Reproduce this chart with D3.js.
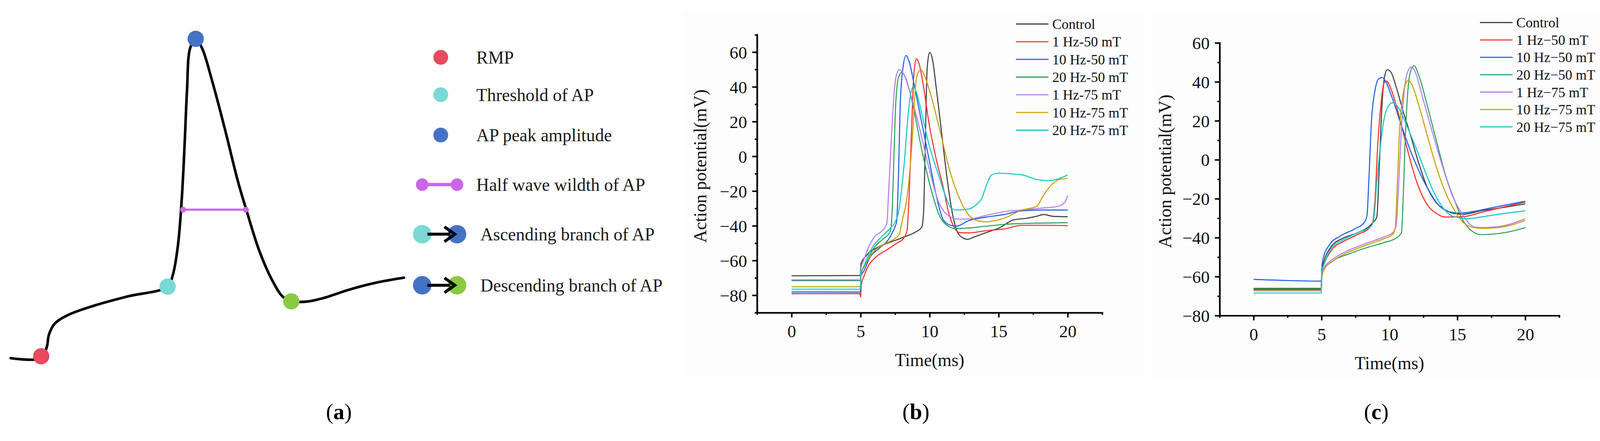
<!DOCTYPE html>
<html>
<head>
<meta charset="utf-8">
<script src="https://d3js.org/d3.v7.min.js"></script>
<style>
  html, body { margin: 0; padding: 0; background: #fff; overflow: hidden; }
  svg { display: block; }
  text { font-family: "Liberation Serif", "Times New Roman", serif; }
</style>
</head>
<body>
<script>

// ---- data ----

// panel a: schematic action potential, units 0..100 both ways
var scheme_curve = [[0,0],[7.7,0],[9.1,3.4],[9.7,7.5],[11.2,10.9],[14.5,13.5],[21.0,16.4],[29.5,19.3],
  [39.7,22.4],[41.0,26.0],[42.3,35.2],[43.3,50.3],[44.0,67.0],[44.6,83.7],[45.4,97.1],[46.8,100],
  [48.4,97.1],[51.1,86.2],[54.3,71.2],[57.5,55.3],[59.7,46.1],[62.9,33.6],[66.2,24.3],[68.8,19.3],
  [71.0,17.8],[74.8,17.7],[79.1,18.8],[85.5,21.4],[91.9,23.5],[99.5,25.2]];
var scheme_points = [[7.7,0.6],[39.7,22.4],[46.8,100],[71.0,17.8]];
var scheme_point_colors = ['#e84a5f','#7ad9d4','#4472c4','#8ac942'];
var half_width = [[43.6,46.5],[59.5,46.5]];
var scheme_labels = ['RMP','Threshold of AP','AP peak amplitude','Half wave wildth of AP',
  'Ascending branch of AP','Descending branch of AP'];

// panel b
var b_control = [[0,-68.8],[4.98,-68.6],[5.02,-62],[5.4,-57.3],[6.31,-52.1],[7.09,-49.6],[8.13,-46.5],[8.91,-43.9],[9.43,-40.8],[9.56,-32.5],[9.69,9],[9.82,50.4],[10.0,59.9],[10.21,55.6],[10.47,40],[10.86,14.1],[11.25,-11.8],[11.64,-32.5],[12.03,-43.9],[12.42,-47],[12.74,-47.8],[13.2,-46.5],[14.1,-43.9],[15.15,-40.8],[16.06,-36.6],[17.1,-35.6],[17.75,-34.5],[18.27,-33.5],[18.9,-34.5],[20,-34.8]];
var b_1hz50 = [[0,-79.1],[4.95,-79],[5.0,-81],[5.05,-74],[5.27,-68.5],[5.53,-63.5],[6.05,-58.4],[6.83,-54.2],[7.61,-50.1],[8.13,-47],[8.36,-42.8],[8.52,-22.1],[8.71,19.3],[8.84,45.2],[9.04,56.1],[9.23,53.5],[9.56,40],[9.95,19.3],[10.47,-1.4],[10.99,-18],[11.38,-32.5],[11.77,-40.8],[12.16,-43.9],[12.8,-44.1],[14.1,-42.8],[15.4,-41.8],[16.7,-39.7],[18,-39.7],[20,-39.9]];
var b_10hz50 = [[0,-78.1],[4.98,-78.1],[5.03,-69],[5.27,-65.6],[5.66,-58.4],[6.31,-53.2],[7.09,-47],[7.48,-40.8],[7.61,-37.6],[7.74,-11.8],[7.87,29.7],[8.06,50.4],[8.29,58],[8.52,54.5],[8.91,40],[9.43,19.3],[9.95,-1.4],[10.47,-22.1],[10.99,-36.6],[11.51,-39.7],[11.96,-40.2],[12.8,-37.1],[14.1,-35],[15.4,-33.5],[16.7,-31.4],[18,-30.9],[20,-30.9]];
var b_20hz50 = [[0,-71.6],[4.98,-71.6],[5.03,-67],[5.27,-63.5],[5.92,-53.2],[6.57,-48],[7.15,-43.3],[7.28,-32.5],[7.41,-1.4],[7.54,29.7],[7.74,45.2],[7.97,48.3],[8.26,45.2],[8.78,29.7],[9.43,3.8],[10.21,-22.1],[10.73,-34.5],[11.25,-39.7],[11.9,-41.6],[12.8,-41.3],[14.1,-40.2],[15.4,-39.2],[16.7,-38.7],[20,-38.2]];
var b_1hz75 = [[0,-71.1],[4.98,-71.1],[5.03,-64],[5.2,-60.4],[5.53,-53.2],[6.05,-45.9],[6.57,-42.8],[6.9,-38.7],[7.02,-22.1],[7.22,9],[7.41,34.8],[7.61,47.3],[7.8,49.9],[8.13,47.3],[8.65,34.8],[9.17,19.3],[9.95,-6.6],[10.6,-25.2],[11.25,-33.5],[12.03,-36.1],[12.8,-36.1],[14.1,-34],[15.4,-31.9],[16.7,-30.9],[18,-29.9],[19.3,-28.8],[19.8,-26.3],[20,-22.6]];
var b_10hz75 = [[0,-75.1],[4.98,-75.1],[5.03,-68],[5.27,-63.5],[5.79,-56.3],[6.57,-51.1],[7.35,-48],[7.8,-44.9],[8.0,-37.6],[8.39,-22.1],[8.78,14.1],[8.97,40],[9.17,48.3],[9.36,49.9],[9.69,45.2],[10.21,31.7],[10.86,11],[11.51,-9.7],[12.16,-24.2],[12.8,-33.5],[13.46,-37.1],[14.1,-37.7],[15.4,-35.6],[16.7,-30.9],[17.75,-28.8],[18.27,-22.1],[18.9,-15.9],[19.4,-13.3],[20,-12.8]];
var b_20hz75 = [[0,-76.5],[4.98,-76.5],[5.03,-68],[5.27,-62.5],[5.79,-53.2],[6.57,-45.9],[7.22,-40.8],[7.55,-37.1],[7.74,-32.5],[8.13,-6.6],[8.45,24.5],[8.65,36.9],[8.8,40],[9.04,36.9],[9.43,24.5],[9.95,6.9],[10.6,-9.7],[11.12,-22.1],[11.51,-29.4],[11.9,-30.9],[12.8,-30.4],[13.46,-27.3],[13.78,-24.2],[14.1,-16.9],[14.5,-10.7],[15.0,-9.7],[16.06,-10.2],[16.7,-10.7],[17.75,-13.3],[18.5,-14],[19.3,-13],[20,-10.7]];

// panel c
var c_control = [[0,-66.4],[4.98,-66.4],[5.03,-56],[5.18,-52],[5.7,-44.7],[6.6,-40.2],[7.64,-37.5],[8.68,-33],[9.07,-29.4],[9.26,-2.3],[9.46,29.3],[9.65,42.9],[9.84,46.2],[10.1,45.1],[10.49,37.5],[11.01,24.8],[11.53,13.1],[12.18,-2.3],[12.83,-14.9],[13.47,-22.2],[14.12,-25.8],[14.77,-27.6],[15.42,-28],[16.71,-26.2],[18.01,-24.9],[20,-22.6]];
var c_1hz50 = [[0,-66],[4.98,-66],[5.03,-57],[5.18,-53.8],[5.83,-45.6],[6.6,-42],[7.64,-38.4],[8.55,-34.8],[8.74,-33],[8.94,-20.4],[9.13,6.7],[9.39,29.3],[9.59,39.3],[9.78,40.4],[10.1,36.6],[10.62,24.8],[11.27,6.7],[11.92,-9.5],[12.7,-22.2],[13.47,-27.6],[14.12,-29.4],[15.42,-29.2],[16.71,-27.1],[18.01,-24.9],[20,-21.7]];
var c_10hz50 = [[0,-61.4],[4.98,-62.3],[5.03,-55],[5.11,-51.1],[5.57,-43.8],[6.35,-39.3],[7.38,-35.7],[8.16,-32.1],[8.35,-28.5],[8.48,-11.3],[8.68,20.3],[8.94,35.7],[9.2,41.5],[9.46,42.2],[9.72,40.2],[10.23,31.2],[10.88,17.6],[11.53,4.9],[12.18,-5.9],[12.83,-14.9],[13.6,-23.1],[14.38,-26.7],[15.16,-27.4],[16.07,-26.7],[17.36,-24.9],[18.66,-23.1],[20,-21.3]];
var c_20hz50 = [[0,-66],[4.98,-66],[5.03,-60],[5.18,-56.5],[5.83,-52],[6.99,-48.4],[8.29,-45.2],[9.59,-42.5],[10.49,-40.2],[10.88,-37.5],[11.01,-20.4],[11.14,6.7],[11.34,33.9],[11.53,44.7],[11.81,48.3],[12.18,42.9],[12.83,26.6],[13.47,9.4],[14.12,-7.7],[14.77,-20.4],[15.42,-31.2],[16.07,-36.6],[16.71,-38.4],[18.01,-37.9],[19.3,-36.2],[20,-34.8]];
var c_1hz75 = [[0,-66.9],[4.98,-66.9],[5.03,-59],[5.18,-55.6],[5.83,-51.1],[6.99,-46.5],[8.29,-42.9],[9.71,-39.3],[10.23,-37.5],[10.49,-33.9],[10.69,-11.3],[10.88,15.8],[11.14,38.4],[11.4,46.1],[11.63,47.6],[11.92,44.7],[12.44,32.1],[13.09,15.8],[13.86,-2.3],[14.64,-18.5],[15.42,-28.5],[16.2,-34.4],[16.71,-34.8],[18.01,-34.3],[20,-30.3]];
var c_10hz75 = [[0,-67.3],[4.98,-67.3],[5.03,-60],[5.18,-56.5],[5.83,-52],[6.99,-47.4],[8.29,-43.8],[9.71,-40.2],[10.23,-38.4],[10.43,-34.8],[10.56,-15.8],[10.75,15.8],[11.01,33.9],[11.21,39.3],[11.4,40.8],[11.66,38.4],[12.18,27.5],[12.83,11.3],[13.47,-4.1],[14.12,-16.7],[14.77,-25.8],[15.42,-32.1],[16.2,-34.8],[16.71,-35.2],[18.01,-34.8],[20,-31.2]];
var c_20hz75 = [[0,-68.4],[4.98,-68.4],[5.03,-57],[5.18,-53.8],[5.7,-45.6],[6.6,-41.1],[7.64,-37.5],[8.68,-33.9],[8.87,-29.4],[9.07,-11.3],[9.33,6.7],[9.59,20.3],[9.91,27.5],[10.23,29.3],[10.62,27.1],[11.27,17.6],[11.92,6.7],[12.57,-5],[13.21,-15.8],[13.86,-23.9],[14.51,-28.5],[15.16,-29.8],[15.81,-30.3],[16.71,-29.4],[18.01,-28],[20,-26.2]];

var names_b = ['Control','1 Hz-50 mT','10 Hz-50 mT','20 Hz-50 mT','1 Hz-75 mT','10 Hz-75 mT','20 Hz-75 mT'];
var names_c = ['Control','1 Hz\u221250 mT','10 Hz\u221250 mT','20 Hz\u221250 mT','1 Hz\u221275 mT','10 Hz\u221275 mT','20 Hz\u221275 mT'];
var series_colors = ['#3c3c3c','#ff2b2b','#1a5fe6','#2aa35a','#b57bf0','#cc9e00','#12c8c8'];

var x_ticks = [0,5,10,15,20];
var y_ticks = [-80,-60,-40,-20,0,20,40,60];

// ---- svg ----
// viewBox so the whole figure fits whatever the viewport really is
var W = 4320, H = 1130;
var svg = d3.select("body").append("svg")
  .attr("viewBox", "0 0 " + W + " " + H)
  .attr("preserveAspectRatio", "xMidYMid meet")
  .style("width", "100vw").style("height", "100vh");

svg.append("rect").attr("x",0).attr("y",0).attr("width",W).attr("height",H).style("fill","#fff");

// the two plot images sit on a barely grey card
svg.append("rect").attr("x",1846).attr("y",0).attr("width",1240).attr("height",987).style("fill","#fdfdfd");
svg.append("rect").attr("x",3113).attr("y",0).attr("width",1207).attr("height",1000).style("fill","#fdfdfd");

//////////////////////////////////////// panel a

var ax = d3.scaleLinear().domain([0,100]).range([29,1096]);
var ay = d3.scaleLinear().domain([0,100]).range([937,74]);

var scheme_line = d3.line()
  .x(function(d){ return ax(d[0]); })
  .y(function(d){ return ay(d[1]); })
  .curve(d3.curveCatmullRom.alpha(0.5));

svg.append("path").datum(scheme_curve)
  .attr("d", scheme_line)
  .style("fill","none").style("stroke","#000").style("stroke-width",7)
  .style("stroke-linecap","round");

// half width bar
svg.append("line")
  .attr("x1", ax(half_width[0][0])).attr("x2", ax(half_width[1][0]))
  .attr("y1", ay(half_width[0][1])).attr("y2", ay(half_width[1][1]))
  .style("stroke","#cc66e6").style("stroke-width",6);
svg.selectAll(".hw_dot").data(half_width).enter().append("circle")
  .attr("class","hw_dot")
  .attr("cx", function(d){ return ax(d[0]); })
  .attr("cy", function(d){ return ay(d[1]); })
  .attr("r", 8).style("fill","#cc66e6");

svg.selectAll(".ap_dot").data(scheme_points).enter().append("circle")
  .attr("class","ap_dot")
  .attr("cx", function(d){ return ax(d[0]); })
  .attr("cy", function(d){ return ay(d[1]); })
  .attr("r", 22)
  .style("fill", function(d,i){ return scheme_point_colors[i]; });

// legend for panel a
var leg_y = [124, 225, 334, 468, 602, 740];
var leg_x = 1190;

for (var i = 0; i < 3; i++){
  svg.append("circle").attr("cx", leg_x).attr("cy", leg_y[i]).attr("r", 20)
    .style("fill", scheme_point_colors[i]);
}
// half wave
svg.append("line").attr("x1", leg_x-50).attr("x2", leg_x+44)
  .attr("y1", leg_y[3]).attr("y2", leg_y[3])
  .style("stroke","#cc66e6").style("stroke-width",9);
[leg_x-50, leg_x+44].forEach(function(cx){
  svg.append("circle").attr("cx", cx).attr("cy", leg_y[3]).attr("r", 17).style("fill","#cc66e6");
});

// ascending / descending: dot -> dot
var place_arrow = function(y, c1, c2){
  svg.append("circle").attr("cx", leg_x-50).attr("cy", y).attr("r", 25).style("fill", c1);
  svg.append("circle").attr("cx", leg_x+44).attr("cy", y).attr("r", 25).style("fill", c2);
  svg.append("line").attr("x1", leg_x-36).attr("x2", leg_x+26)
    .attr("y1", y).attr("y2", y)
    .style("stroke","#000").style("stroke-width",8);
  svg.append("path")
    .attr("d", "M" + (leg_x+10) + "," + (y-20) + " L" + (leg_x+38) + "," + y + " L" + (leg_x+10) + "," + (y+20))
    .style("fill","none").style("stroke","#000").style("stroke-width",8)
    .style("stroke-linejoin","miter");
}
place_arrow(leg_y[4], scheme_point_colors[1], scheme_point_colors[2]);
place_arrow(leg_y[5], scheme_point_colors[2], scheme_point_colors[3]);

svg.selectAll(".leg_a").data(scheme_labels).enter().append("text")
  .attr("class","leg_a")
  .attr("x", function(d,i){ return i < 4 ? 1286 : 1297; })
  .attr("y", function(d,i){ return leg_y[i]; })
  .attr("dy","0.35em")
  .style("font-size","48px").style("fill","#1a1a1a")
  .text(function(d){ return d; });

//////////////////////////////////////// panels b, c

var draw_panel = function(opt){
  var x = d3.scaleLinear().domain([-2.5, 22.5]).range(opt.xr);
  var y = d3.scaleLinear().domain(opt.yd).range(opt.yr);
  var g = svg.append("g");

  var line = d3.line()
    .x(function(d){ return x(d[0]); })
    .y(function(d){ return y(d[1]); })
    .curve(d3.curveMonotoneX);

  opt.series.forEach(function(s, i){
    g.append("path").datum(s)
      .attr("d", line)
      .style("fill","none")
      .style("stroke", series_colors[i])
      .style("stroke-width", 2.8)
      .style("stroke-linejoin","round");
  });

  // minor ticks first, major on top
  var minor_x = d3.range(-2.5, 22.6, 2.5);
  var minor_y = d3.range(opt.yd[0], opt.yd[1] + 1, 10);

  var gx_minor = g.append("g").attr("transform","translate(0," + opt.yr[0] + ")")
    .call(d3.axisBottom(x).tickValues(minor_x).tickSize(6).tickSizeOuter(0).tickFormat(""));
  var gy_minor = g.append("g").attr("transform","translate(" + opt.xr[0] + ",0)")
    .call(d3.axisLeft(y).tickValues(minor_y).tickSize(6).tickSizeOuter(0).tickFormat(""));

  var gx = g.append("g").attr("transform","translate(0," + opt.yr[0] + ")")
    .call(d3.axisBottom(x).tickValues(x_ticks).tickSize(13).tickSizeOuter(0).tickPadding(20));
  var gy = g.append("g").attr("transform","translate(" + opt.xr[0] + ",0)")
    .call(d3.axisLeft(y).tickValues(y_ticks).tickSize(13).tickSizeOuter(0).tickPadding(14));

  [gx_minor, gy_minor, gx, gy].forEach(function(a){
    a.selectAll("path.domain").style("stroke","#000").style("stroke-width",4).style("stroke-linecap","square");
    a.selectAll(".tick line").style("stroke","#000").style("stroke-width",4);
    a.selectAll(".tick text").style("font-family","'Liberation Serif', serif")
      .style("font-size","47px").style("fill","#111");
  });
  gy.selectAll(".tick text").attr("dy","0.35em");

  // axis titles
  g.append("text")
    .attr("x", x(10)).attr("y", opt.yr[0] + 128)
    .attr("dy","0.35em").attr("text-anchor","middle")
    .style("font-size","48px").style("fill","#111")
    .text("Time(ms)");
  g.append("text")
    .attr("transform","translate(" + (opt.xr[0] - opt.ytitle_off) + "," + opt.ytitle_y + ") rotate(-90)")
    .attr("dy","0.35em").attr("text-anchor","middle")
    .style("font-size","48px").style("fill","#111")
    .text("Action potential(mV)");

  // legend
  opt.names.forEach(function(n, i){
    var ly = opt.leg_y0 + i * opt.leg_step;
    g.append("line")
      .attr("x1", opt.leg_x).attr("x2", opt.leg_x + 88)
      .attr("y1", ly).attr("y2", ly)
      .style("stroke", series_colors[i]).style("stroke-width", 3);
    g.append("text")
      .attr("x", opt.leg_x + 98).attr("y", ly).attr("dy","0.35em")
      .style("font-size","38px").style("fill","#111")
      .text(n);
  });
}

draw_panel({
  xr: [2044, 2976], yd: [-90, 70], yr: [814, 63],
  series: [b_control, b_1hz50, b_10hz50, b_20hz50, b_1hz75, b_10hz75, b_20hz75],
  names: names_b, leg_x: 2743, leg_y0: 34, leg_step: 47.8,
  ytitle_off: 154, ytitle_y: 418
});

draw_panel({
  xr: [3293, 4210], yd: [-80, 60], yr: [822, 85],
  series: [c_control, c_1hz50, c_10hz50, c_20hz50, c_1hz75, c_10hz75, c_20hz75],
  names: names_c, leg_x: 3996, leg_y0: 30, leg_step: 47,
  ytitle_off: 148, ytitle_y: 432
});

// panel letters
var panel_letters = [['a', 915], ['b', 2473], ['c', 3716]];
panel_letters.forEach(function(p){
  var t = svg.append("text")
    .attr("x", p[1]).attr("y", 1081).attr("dy","0.35em")
    .attr("text-anchor","middle")
    .style("font-size","60px").style("fill","#000");
  t.append("tspan").text("(");
  t.append("tspan").style("font-weight","bold").text(p[0]);
  t.append("tspan").text(")");
});

</script>
</body>
</html>
